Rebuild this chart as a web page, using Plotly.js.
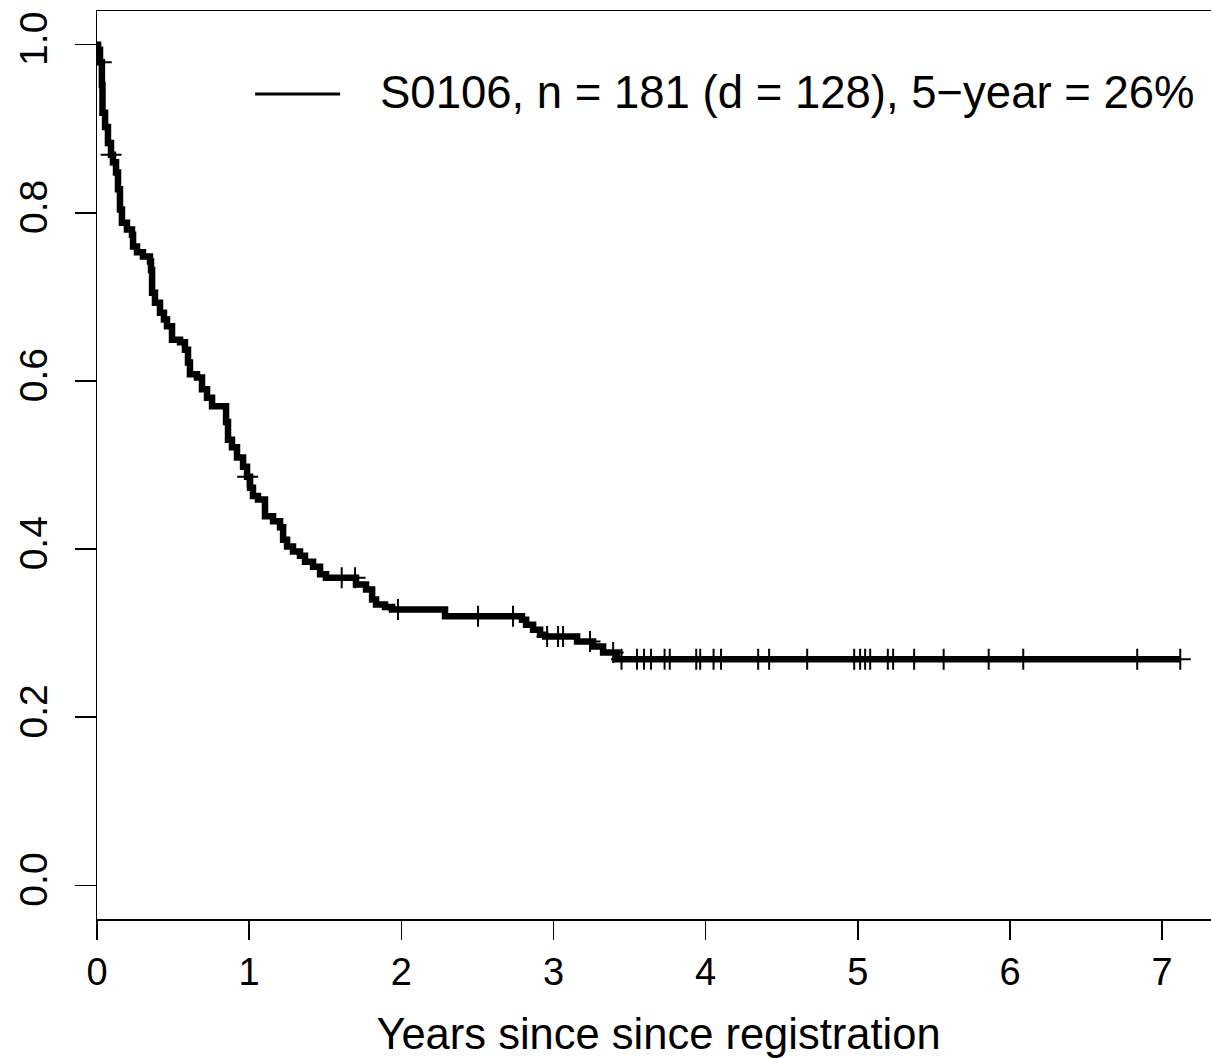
<!DOCTYPE html>
<html>
<head>
<meta charset="utf-8">
<script src="https://cdn.plot.ly/plotly-3.0.1.min.js"></script>
<style>
  html, body { margin: 0; padding: 0; overflow: hidden; background: #fff; }
  #chart { width: 1260px; height: 1058px; }
</style>
</head>
<body>
<div id="chart"></div>
<script>
// Kaplan-Meier step curve (years, survival after each drop)
const times = [0, 0.007, 0.020, 0.032, 0.036, 0.053, 0.072, 0.092, 0.105, 0.125,
  0.138, 0.151, 0.164, 0.197, 0.230, 0.237, 0.263, 0.302, 0.348, 0.355,
  0.362, 0.381, 0.414, 0.440, 0.460, 0.493, 0.546, 0.578, 0.598, 0.611,
  0.657, 0.690, 0.723, 0.756, 0.848, 0.861, 0.887, 0.920, 0.960, 0.986,
  1.006, 1.025, 1.058, 1.104, 1.157, 1.203, 1.223, 1.249, 1.288, 1.334,
  1.367, 1.420, 1.466, 1.505, 1.702, 1.768, 1.808, 1.834, 1.893, 1.939,
  2.287, 2.793, 2.820, 2.866, 2.912, 2.945, 3.155, 3.260, 3.326, 3.418, 7.12];
const surv = [1.000, 0.994, 0.979, 0.952, 0.919, 0.902, 0.883, 0.869, 0.860, 0.848,
  0.828, 0.804, 0.788, 0.780, 0.774, 0.760, 0.753, 0.748, 0.742, 0.732,
  0.705, 0.693, 0.681, 0.673, 0.665, 0.649, 0.646, 0.637, 0.622, 0.608,
  0.604, 0.590, 0.580, 0.570, 0.551, 0.530, 0.521, 0.509, 0.498, 0.486,
  0.473, 0.463, 0.459, 0.439, 0.433, 0.426, 0.411, 0.403, 0.397, 0.392,
  0.385, 0.379, 0.370, 0.366, 0.358, 0.352, 0.340, 0.334, 0.331, 0.328,
  0.320, 0.316, 0.310, 0.304, 0.298, 0.296, 0.290, 0.284, 0.277, 0.269, 0.269];
// Censoring times (years)
const censorTimes = [0.028, 0.093, 0.99, 1.608, 1.696, 1.978, 2.504, 2.734, 2.958, 3.030,
  3.063, 3.240, 3.392, 3.447, 3.549, 3.595, 3.641, 3.730, 3.764, 3.938,
  3.964, 4.052, 4.101, 4.345, 4.417, 4.667, 4.976, 5.015, 5.048, 5.081,
  5.197, 5.232, 5.370, 5.564, 5.860, 6.087, 6.836, 7.119];
const xTicks = [0, 1, 2, 3, 4, 5, 6, 7];
const yTicks = [0.0, 0.2, 0.4, 0.6, 0.8, 1.0];
const legendText = "S0106, n = 181 (d = 128), 5\u2212year = 26%";
const xTitle = "Years since since registration";

function survAt(t) {
  let s = surv[0];
  for (let i = 0; i < times.length; i++) { if (times[i] <= t) s = surv[i]; else break; }
  return s;
}
const censorSurv = censorTimes.map(survAt);

const FONT = "Liberation Sans, Arial, Helvetica, sans-serif";

const traces = [
  {
    x: times, y: surv, type: "scatter", mode: "lines",
    line: { shape: "hv", color: "#000", width: 6.5 },
    showlegend: false, hoverinfo: "skip"
  },
  {
    x: censorTimes, y: censorSurv, type: "scatter", mode: "markers",
    marker: { symbol: "cross-thin", size: 15, color: "#000", line: { color: "#000", width: 2 } },
    showlegend: false, hoverinfo: "skip"
  }
];

const layout = {
  width: 1260, height: 1058,
  margin: { l: 97, r: 40, t: 11, b: 139 },
  paper_bgcolor: "#fff", plot_bgcolor: "#fff",
  font: { family: FONT, color: "#000" },
  showlegend: false,
  xaxis: {
    range: [0, 7.38], tickvals: xTicks, ticktext: xTicks.map(String),
    ticks: "outside", ticklen: 19, tickwidth: 1.5, tickcolor: "#000",
    showline: true, linecolor: "#000", linewidth: 1.5, mirror: true,
    showgrid: false, zeroline: false,
    tickfont: { size: 38, family: FONT, color: "#000" },
    ticklabelstandoff: 0,
    title: { text: xTitle, font: { size: 43.5, family: FONT, color: "#000" }, standoff: 31 }
  },
  yaxis: {
    range: [-0.04, 1.04], tickvals: yTicks, ticktext: yTicks.map(v => v.toFixed(1)),
    ticks: "outside", ticklen: 21, tickwidth: 1.5, tickcolor: "#000",
    showline: true, linecolor: "#000", linewidth: 1.5, mirror: true,
    showgrid: false, zeroline: false, tickangle: -90,
    tickfont: { size: 39, family: FONT, color: "#000" },
    ticklabelstandoff: 12
  },
  shapes: [
    { type: "line", xref: "paper", yref: "paper", x0: 0.1408, x1: 0.2165, y0: 0.9086, y1: 0.9086,
      line: { color: "#000", width: 3 } }
  ],
  annotations: [
    { xref: "paper", yref: "paper", x: 0.2500, y: 0.9097, xanchor: "left", yanchor: "middle",
      text: legendText, showarrow: false, font: { size: 45.5, family: FONT, color: "#000" } }
  ]
};

Plotly.newPlot("chart", traces, layout, { displayModeBar: false, staticPlot: true });
</script>
</body>
</html>
